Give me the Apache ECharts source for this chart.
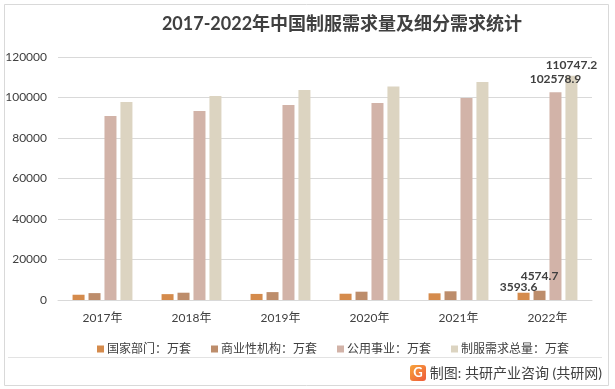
<!DOCTYPE html>
<html>
<head>
<meta charset="utf-8">
<script src="https://cdn.jsdelivr.net/npm/echarts@6/dist/echarts.min.js"></script>
<style>html,body{margin:0;padding:0;background:#fff;}#c{width:615px;height:389px;}</style>
</head>
<body>
<div id="c"></div>
<script>
const categories = ['2017年','2018年','2019年','2020年','2021年','2022年'];
const seriesNames = ['国家部门：万套','商业性机构：万套','公用事业：万套','制服需求总量：万套'];
const govDept = [2600, 2900, 3000, 3100, 3300, 3593.6];
const commercial = [3400, 3600, 3900, 4100, 4300, 4574.7];
const publicUtil = [90900, 93300, 96300, 97300, 99800, 102578.9];
const totalDemand = [97800, 100700, 103700, 105400, 107700, 110747.2];
const yTicks = [0, 20000, 40000, 60000, 80000, 100000, 120000];
const colors = ['#D58B4C', '#BD8D6B', '#D2B3A8', '#DCD4C1'];

const FONT = 'Lato, "Noto Sans CJK SC", sans-serif';
const chart = echarts.init(document.getElementById('c'));

function mk(name, data, color, dist, offX) {
  return {
    name: name,
    type: 'bar',
    data: data,
    barWidth: 12,
    barGap: '33%',
    itemStyle: { color: color },
    label: {
      show: true,
      position: 'top',
      distance: dist,
      offset: [offX, 0],
      color: '#404040',
      fontSize: 12,
      fontWeight: 'bold',
      fontFamily: FONT,
      formatter: function (p) { return p.dataIndex === categories.length - 1 ? String(p.value) : ''; }
    }
  };
}

chart.setOption({
  animation: false,
  backgroundColor: '#fff',
  title: {
    text: '2017-2022年中国制服需求量及细分需求统计',
    left: 337, top: 10, textAlign: 'center',
    textStyle: { fontSize: 18, fontWeight: 'bold', color: '#404040', fontFamily: FONT }
  },
  legend: {
    data: seriesNames,
    left: 92, top: 338,
    itemWidth: 7, itemHeight: 7, itemGap: 20,
    icon: 'rect',
    textStyle: { fontSize: 12, color: '#404040', fontFamily: FONT, padding: [0, 0, 0, -2] }
  },
  grid: { left: 58, right: 23, top: 57, bottom: 89, containLabel: false },
  xAxis: {
    type: 'category',
    data: categories,
    axisLine: { lineStyle: { color: '#D9D9D9', width: 1 } },
    axisTick: { show: false },
    axisLabel: { color: '#404040', fontSize: 12, fontFamily: FONT, margin: 12 }
  },
  yAxis: {
    type: 'value',
    min: 0, max: 120000, interval: 20000,
    axisLine: { show: false },
    axisTick: { show: false },
    splitLine: { lineStyle: { color: '#D9D9D9', width: 1 } },
    axisLabel: {
      color: '#404040', fontSize: 12, fontFamily: FONT, margin: 11,
      formatter: function (v) { return yTicks.indexOf(v) >= 0 ? String(v) : ''; }
    }
  },
  series: [
    mk(seriesNames[0], govDept, colors[0], 0, -5),
    mk(seriesNames[1], commercial, colors[1], 9, 0),
    mk(seriesNames[2], publicUtil, colors[2], 7, 0),
    mk(seriesNames[3], totalDemand, colors[3], 5, 0)
  ],
  graphic: [
    { type: 'rect', shape: { x: 4.5, y: 4.5, width: 604, height: 381 }, style: { fill: 'none', stroke: '#D9D9D9', lineWidth: 1 }, silent: true },
    { type: 'line', shape: { x1: 8, y1: 357.5, x2: 602, y2: 357.5 }, style: { stroke: '#E3E3E3', lineWidth: 1 }, silent: true },
    { type: 'rect', shape: { x: 410, y: 365, width: 16, height: 16, r: 3 },
      style: { fill: new echarts.graphic.LinearGradient(0, 0, 1, 1, [{ offset: 0, color: '#F7A43B' }, { offset: 1, color: '#EE5A3A' }]) }, silent: true },
    { type: 'text', style: { x: 418, y: 373, text: 'G', fill: '#fff', fontSize: 13, fontWeight: 'bold', fontFamily: FONT, align: 'center', verticalAlign: 'middle' }, silent: true },
    { type: 'text', style: { x: 602, y: 373, text: '制图: 共研产业咨询 (共研网)', fill: '#404040', fontSize: 14, fontFamily: FONT, align: 'right', verticalAlign: 'middle' }, silent: true }
  ]
});
</script>
</body>
</html>
